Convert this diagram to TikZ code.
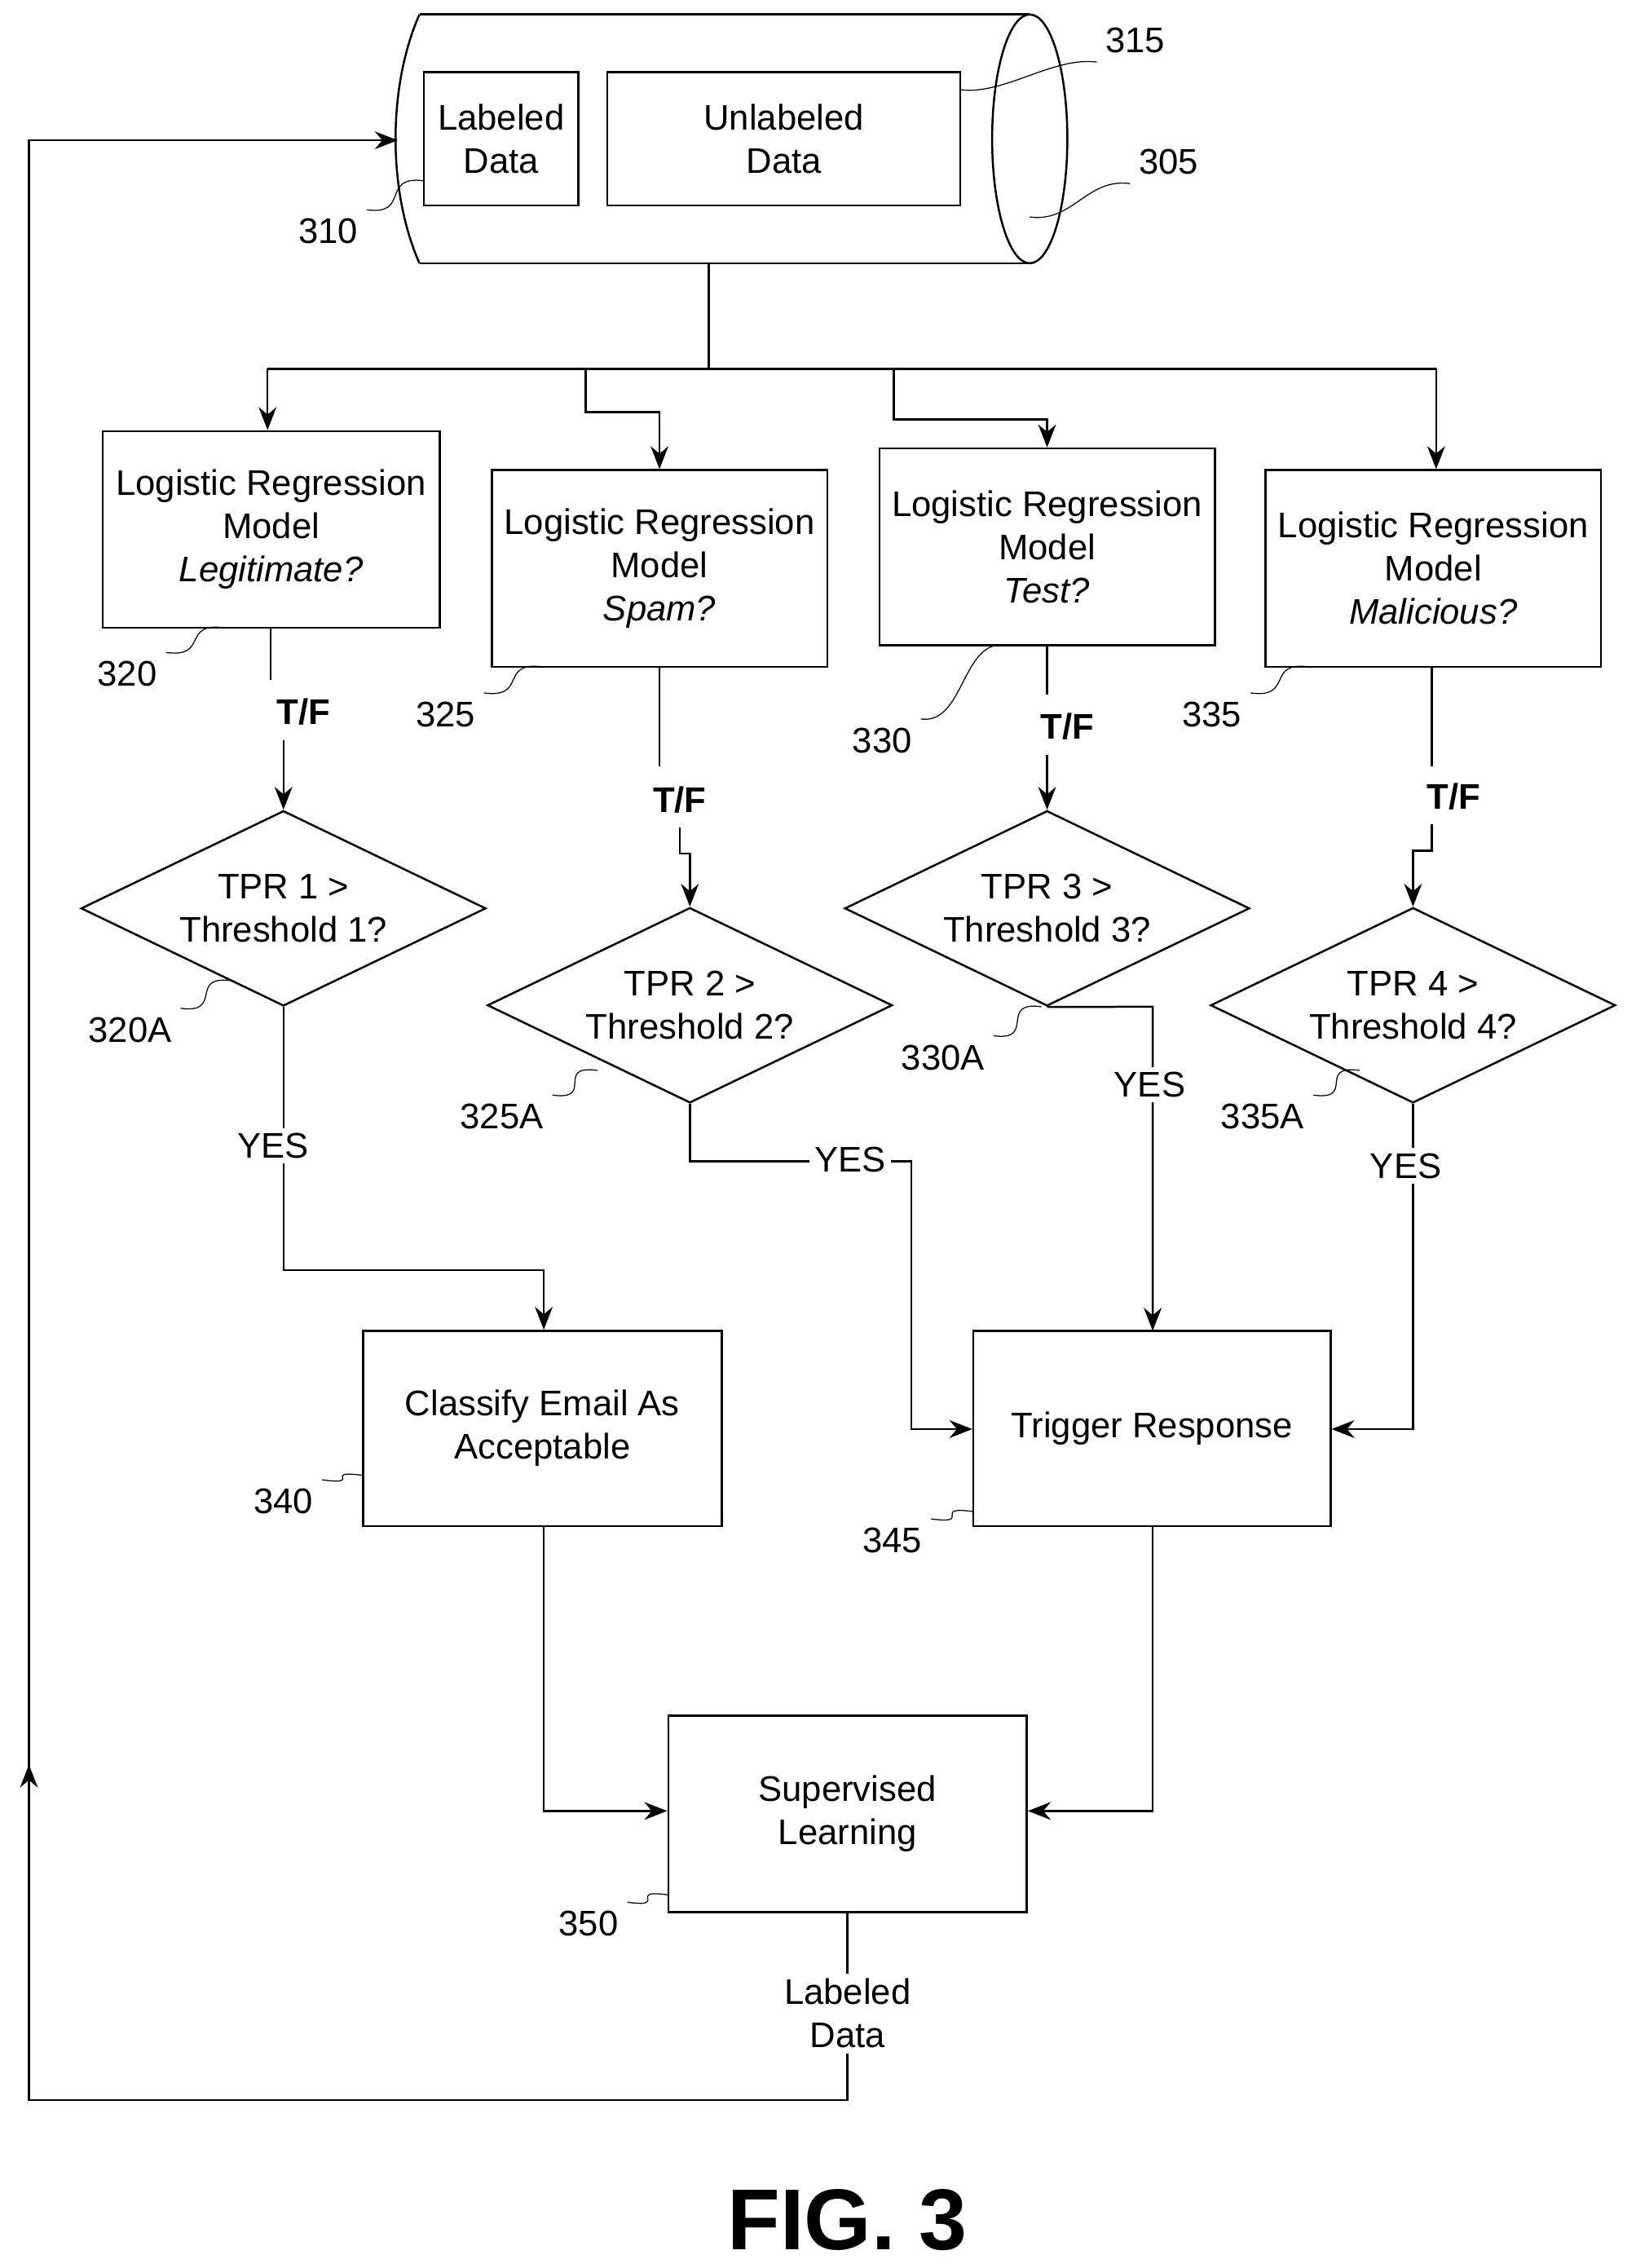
\documentclass[tikz,border=0pt]{standalone}
\usepackage{fontspec}
\setmainfont{Liberation Sans}
\usetikzlibrary{shapes.geometric,arrows.meta}
\tikzstyle{box} = [rectangle, draw=black, thick, align=center, inner sep=0pt]
\tikzstyle{decision} = [diamond, draw=black, thick, inner sep=0pt, minimum width=5.6cm, minimum height=2.7cm]
\tikzstyle{line} = [thick]
\tikzstyle{arrow} = [thick,-{Stealth[length=9pt,width=7pt]}]
\tikzstyle{num} = [font=\fontsize{14}{16}\selectfont]
\tikzstyle{lbl} = [fill=white, inner sep=2pt, align=center, font=\fontsize{14}{17}\selectfont]
\tikzstyle{tf} = [font=\bfseries\fontsize{14}{16}\selectfont]
\newcommand{\squig}[2]{\draw (#1) .. controls +(30,4) and +(-30,-4) .. (#2);}
\begin{document}
\begin{tikzpicture}[x=0.02cm, y=-0.02cm, font=\fontsize{14}{17}\selectfont]
\useasboundingbox (0,0) rectangle (1131,1568);

% database cylinder
\draw[line] (290,10) -- (712,10);
\draw[line] (290,182) -- (712,182);
\draw[line] (290,10) .. controls (268,60) and (268,132) .. (290,182);
\draw[line] (712,96) ellipse [x radius=26, y radius=86];
\node (labeled) [box, minimum width=2.14cm, minimum height=1.84cm] at (346.5,96) {Labeled\\Data};
\node (unlabeled) [box, minimum width=4.88cm, minimum height=1.84cm] at (542,96) {Unlabeled\\Data};
\coordinate (dbin) at (275,97);
\coordinate (dbout) at (490,182);

% models
\node (lrlegit) [box, minimum width=4.66cm, minimum height=2.72cm] at (187.5,366) {Logistic Regression\\Model\\\textit{Legitimate?}};
\node (lrspam) [box, minimum width=4.64cm, minimum height=2.72cm] at (456,393) {Logistic Regression\\Model\\\textit{Spam?}};
\node (lrtest) [box, minimum width=4.64cm, minimum height=2.72cm] at (724,378) {Logistic Regression\\Model\\\textit{Test?}};
\node (lrmal) [box, minimum width=4.64cm, minimum height=2.72cm] at (991,393) {Logistic Regression\\Model\\\textit{Malicious?}};

\draw[line] (dbout) -- (490,255);
\draw[line] (185,255) -- (993,255);
\draw[arrow] (185,255) -- (lrlegit.north -| 185,0);
\draw[arrow] (405,255) -- (405,285) -- (456,285) -- (lrspam.north);
\draw[arrow] (618,255) -- (618,290) -- (724,290) -- (lrtest.north);
\draw[arrow] (993,255) -- (lrmal.north -| 993,0);

% thresholds
\node (tpr1) [decision, label={[align=center]center:TPR 1 >\\Threshold 1?}] at (196,628) {};
\node (tpr2) [decision, label={[align=center]center:TPR 2 >\\Threshold 2?}] at (477,695) {};
\node (tpr3) [decision, label={[align=center]center:TPR 3 >\\Threshold 3?}] at (724,628) {};
\node (tpr4) [decision, label={[align=center]center:TPR 4 >\\Threshold 4?}] at (977,695) {};

\draw[line] (lrlegit.south -| 187,0) -- (187,470);
\node (tf1) [tf] at (210,492) {T/F};
\draw[arrow] (196,512) -- (tpr1.north);
\draw[line] (lrspam.south) -- (456,530);
\node (tf2) [tf] at (470,553) {T/F};
\draw[arrow] (470,572) -- (470,590) -- (477,590) -- (tpr2.north);
\draw[line] (lrtest.south) -- (724,480);
\node (tf3) [tf] at (738,502) {T/F};
\draw[arrow] (724,522) -- (tpr3.north);
\draw[line] (lrmal.south -| 990,0) -- (990,530);
\node (tf4) [tf] at (1005,551) {T/F};
\draw[arrow] (990,570) -- (990,588) -- (977,588) -- (tpr4.north);

% outcomes
\node (classify) [box, minimum width=4.96cm, minimum height=2.7cm] at (375,987.5) {Classify Email As\\Acceptable};
\node (trigger) [box, minimum width=4.94cm, minimum height=2.7cm] at (796.5,987.5) {Trigger Response};
\node (supervised) [box, minimum width=4.96cm, minimum height=2.72cm] at (586,1254) {Supervised\\Learning};

\draw[arrow] (tpr1.south) -- (196,878) -- (376,878) -- (classify.north -| 376,0);
\node (yes1) [lbl] at (189,792) {YES};
\draw[arrow] (tpr2.south) -- (477,803) -- (630,803) -- (630,988) -- (trigger.west |- 0,988);
\node (yes2) [lbl] at (588,802) {YES};
\draw[arrow] (tpr3.south) -- (797,696) -- (797,920);
\node (yes3) [lbl] at (795,750) {YES};
\draw[arrow] (tpr4.south) -- (977,988) -- (trigger.east |- 0,988);
\node (yes4) [lbl] at (972,806) {YES};

\draw[arrow] (classify.south -| 376,0) -- (376,1252) -- (supervised.west |- 0,1252);
\draw[arrow] (trigger.south -| 797,0) -- (797,1252) -- (supervised.east |- 0,1252);
\draw[arrow] (supervised.south) -- (586,1452) -- (20,1452) -- (20,97) -- (dbin);
\draw[arrow] (20,1300) -- (20,1220);
\node (labout) [lbl] at (586,1392) {Labeled\\Data};

% reference numerals
\node (n310) [num] at (227,160) {310}; \squig{n310.north east}{293,125}
\node (n315) [num] at (785,28) {315}; \squig{664,62}{n315.south west}
\node (n305) [num] at (808,112) {305}; \squig{712,150}{n305.south west}
\node (n320) [num] at (88,466) {320}; \squig{n320.north east}{155,434}
\node (n325) [num] at (308,494) {325}; \squig{n325.north east}{375,461}
\node (n330) [num] at (610,512) {330}; \squig{n330.north east}{695,446}
\node (n335) [num] at (838,494) {335}; \squig{n335.north east}{905,461}
\node (n320a) [num] at (90,712) {320A}; \squig{n320a.north east}{160,678}
\node (n325a) [num] at (347,772) {325A}; \squig{n325a.north east}{413,740}
\node (n330a) [num] at (652,731) {330A}; \squig{n330a.north east}{720,696}
\node (n335a) [num] at (873,772) {335A}; \squig{n335a.north east}{940,740}
\node (n340) [num] at (196,1038) {340}; \squig{n340.north east}{251,1020}
\node (n345) [num] at (617,1065) {345}; \squig{n345.north east}{673,1045}
\node (n350) [num] at (407,1330) {350}; \squig{n350.north east}{462,1310}

\node (fig) [font=\bfseries\fontsize{34}{36}\selectfont] at (586,1535) {FIG. 3};
\end{tikzpicture}
\end{document}
